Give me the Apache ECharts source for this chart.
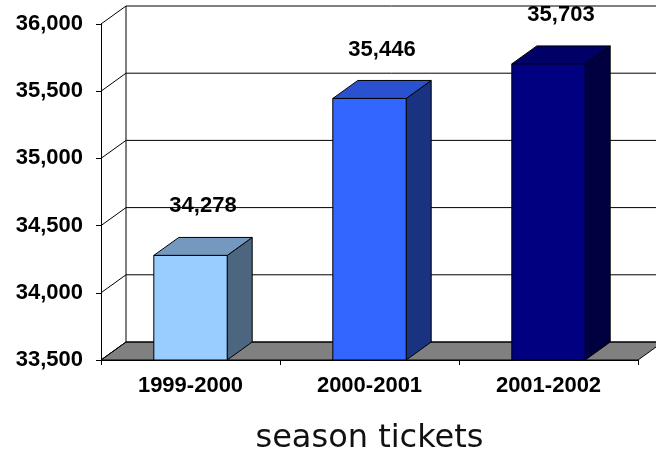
<!DOCTYPE html>
<html>
<head>
<meta charset="utf-8">
<script src="https://cdn.jsdelivr.net/npm/echarts@6/dist/echarts.min.js"></script>
<style>html,body{margin:0;padding:0;background:#fff}#c{width:656px;height:460px}</style>
</head>
<body>
<div id="c"></div>
<script>
const categories = ['1999-2000', '2000-2001', '2001-2002'];
const seasonTickets = [34278, 35446, 35703];
const yTicks = [33500, 34000, 34500, 35000, 35500, 36000];
const frontColors = ['#99CCFF', '#3366FF', '#000080'];
const topColors = ['#7399BF', '#2A52D0', '#000066'];
const sideColors = ['#4D6680', '#1A3380', '#000040'];

const YMIN = 33500, YMAX = 36000;
const DX = 25, DY = -18;
const FONT = 'bold 22px "Liberation Sans", Arial, sans-serif';

const chart = echarts.init(document.getElementById('c'), null, {renderer: 'canvas'});

function fmt(v) { return v.toLocaleString('en-US'); }

chart.setOption({
  animation: false,
  backgroundColor: '#ffffff',
  grid: {left: 101, right: 18, top: 24, bottom: 90, containLabel: false},
  xAxis: {
    type: 'category',
    data: categories,
    boundaryGap: true,
    axisLine: {show: true, lineStyle: {color: '#000', width: 1}},
    axisTick: {show: true, length: 5, lineStyle: {color: '#000'}},
    axisLabel: {margin: 15, color: '#000', fontSize: 22, fontWeight: 'bold', fontFamily: '"Liberation Sans", Arial, sans-serif'},
    name: 'season tickets',
    nameLocation: 'middle',
    nameGap: 63,
    nameTextStyle: {fontSize: 32, color: '#111', fontFamily: '"DejaVu Sans", Verdana, sans-serif', fontWeight: 'normal'},
    splitLine: {show: false},
    z: 10
  },
  yAxis: {
    type: 'value',
    min: YMIN, max: YMAX, interval: 500,
    axisLine: {show: true, lineStyle: {color: '#000', width: 1}},
    axisTick: {show: true, length: 5, lineStyle: {color: '#000'}},
    axisLabel: {margin: 18, color: '#000', fontSize: 22, fontWeight: 'bold', fontFamily: '"Liberation Sans", Arial, sans-serif', formatter: v => fmt(v)},
    splitLine: {show: false},
    z: 10
  },
  series: [
    {
      type: 'custom',
      z: 1,
      silent: true,
      clip: false,
      data: [[0, YMIN]],
      renderItem: function (params, api) {
        const cs = params.coordSys;
        const x0 = cs.x, x1 = cs.x + cs.width;
        const yb = api.coord([0, YMIN])[1];
        const yt = api.coord([0, YMAX])[1];
        const children = [];
        children.push({type: 'polygon', shape: {points: [[x0, yb], [x1, yb], [x1 + DX, yb + DY], [x0 + DX, yb + DY]]},
          style: {fill: '#808080', stroke: '#000', lineWidth: 1}});
        children.push({type: 'line', shape: {x1: x0 + DX, y1: yb + DY, x2: x0 + DX, y2: yt + DY}, style: {stroke: '#000', lineWidth: 1}});
        yTicks.forEach(function (t) {
          const y = api.coord([0, t])[1];
          children.push({type: 'line', shape: {x1: x0 + DX, y1: y + DY, x2: x1 + DX, y2: y + DY}, style: {stroke: '#000', lineWidth: 1}});
          children.push({type: 'line', shape: {x1: x0, y1: y, x2: x0 + DX, y2: y + DY}, style: {stroke: '#000', lineWidth: 1}});
        });
        return {type: 'group', children: children};
      }
    },
    {
      type: 'custom',
      z: 5,
      clip: false,
      data: seasonTickets.map((v, i) => [i, v]),
      renderItem: function (params, api) {
        const i = api.value(0);
        const v = api.value(1);
        const top = api.coord([i, v]);
        const bot = api.coord([i, YMIN]);
        const w = api.size([1, 0])[0] * 0.41;
        const xl = top[0] - w / 2, xr = top[0] + w / 2;
        const yt = top[1], yb = bot[1];
        const st = {stroke: '#000', lineWidth: 1, lineJoin: 'round'};
        return {type: 'group', children: [
          {type: 'polygon', shape: {points: [[xr, yt], [xr + DX, yt + DY], [xr + DX, yb + DY], [xr, yb]]},
            style: Object.assign({fill: sideColors[i]}, st)},
          {type: 'polygon', shape: {points: [[xl, yt], [xr, yt], [xr + DX, yt + DY], [xl + DX, yt + DY]]},
            style: Object.assign({fill: topColors[i]}, st)},
          {type: 'rect', shape: {x: xl, y: yt, width: w, height: yb - yt},
            style: Object.assign({fill: frontColors[i]}, st)},
          {type: 'text', style: {text: fmt(v), x: (xl + xr + DX) / 2, y: yt + DY - 31,
            textAlign: 'center', textVerticalAlign: 'middle', font: FONT, fill: '#000'}}
        ]};
      }
    }
  ]
});
</script>
</body>
</html>
